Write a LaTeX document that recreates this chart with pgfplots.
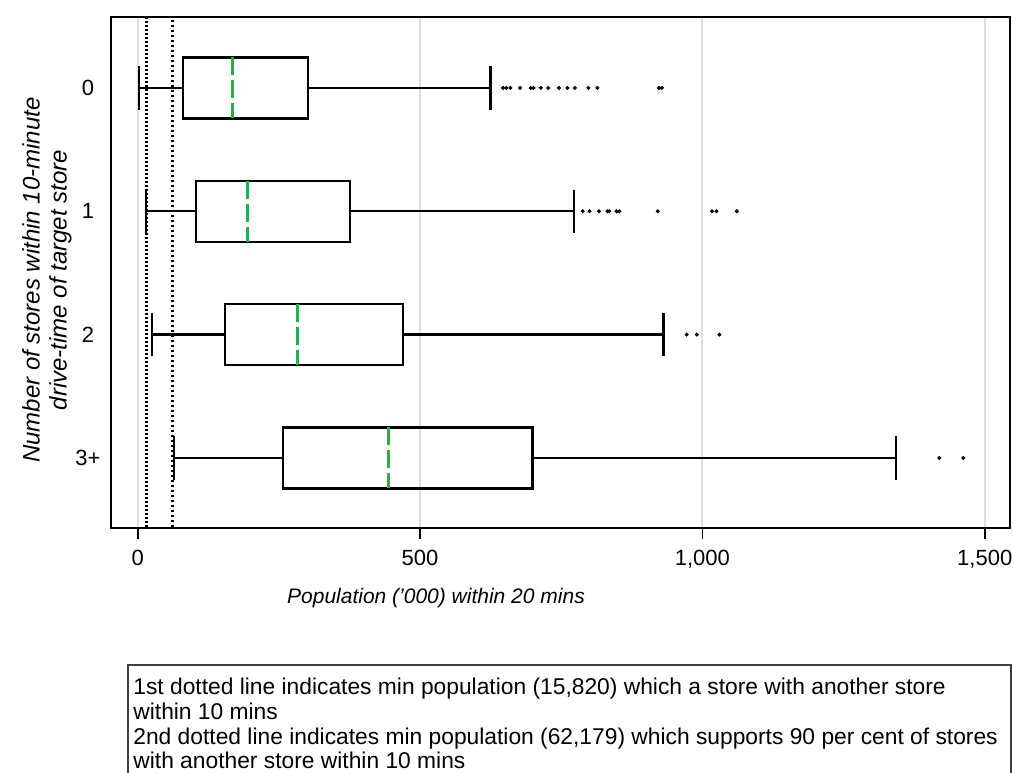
\documentclass[border=0pt]{standalone}
\usepackage{fontspec}
\setmainfont{Liberation Sans}
\usepackage{pgfplots}
\pgfplotsset{compat=1.18}
\usepgfplotslibrary{statistics}
\definecolor{medgreen}{RGB}{34,177,76}
\definecolor{gridgray}{RGB}{221,221,221}

\begin{document}
\begin{tikzpicture}
\useasboundingbox (0,0) rectangle (506.5bp,386.5bp);
\begin{axis}[
  at={(55.5bp,122.5bp)}, anchor=south west,
  scale only axis, width=449.5bp, height=255.5bp,
  xmin=-47.3, xmax=1544.7,
  ymin=-0.575, ymax=3.568, y dir=reverse,
  axis line style={black, line width=1.1bp},
  xtick={0,500,1000,1500},
  xticklabels={0,500,{1,000},{1,500}},
  ytick={0,1,2,3}, yticklabels={0,1,2,3+},
  xtick pos=bottom, ytick pos=left,
  tick align=outside,
  major tick length=5.5bp,
  ytick style={draw=none},
  xtick style={black, line width=0.9bp},
  xmajorgrids, grid style={gridgray, line width=1bp},
  ticklabel style={font=\fontsize{11bp}{12bp}\selectfont},
  yticklabel style={anchor=center, xshift=-6bp},
  xticklabel style={yshift=-2bp},
  /pgf/number format/assume math mode=true,
  boxplot/draw direction=x,
  boxplot/every box/.style={draw=black, line width=1.2bp},
  boxplot/every whisker/.style={black, line width=1.2bp},
  boxplot/every median/.style={medgreen, line width=1.5bp, dash pattern=on 9bp off 2.5bp},
  clip=true
]

% reference lines: min population thresholds
\addplot[black, line width=1.5bp, dash pattern=on 1bp off 1bp] coordinates {(15.82,-1) (15.82,4)};
\addplot[black, line width=1.4bp, dash pattern=on 1.3bp off 1.2bp] coordinates {(62.179,-1) (62.179,4)};

% 0 stores
\addplot[boxplot prepared={draw position=0, lower whisker=2.8, lower quartile=79.7,
    median=168, upper quartile=302, upper whisker=625, box extend=0.495, whisker extend=0.35},
  black, solid, mark=*, mark size=0.8bp, mark options={black, fill=black}]
  table[row sep=\\, y index=0] {v\\ 647\\ 653\\ 660\\ 677\\ 696\\ 701\\ 714\\ 727\\ 746\\ 761\\ 774\\ 798\\ 814\\ 923\\ 928\\};

% 1 store
\addplot[boxplot prepared={draw position=1, lower whisker=14.5, lower quartile=103,
    median=194, upper quartile=376, upper whisker=773, box extend=0.495, whisker extend=0.35},
  black, solid, mark=*, mark size=0.8bp, mark options={black, fill=black}]
  table[row sep=\\, y index=0] {v\\ 788\\ 800\\ 817\\ 832\\ 835\\ 848\\ 853\\ 921\\ 1017\\ 1025\\ 1061\\};

% 2 stores
\addplot[boxplot prepared={draw position=2, lower whisker=24.8, lower quartile=154.6,
    median=283, upper quartile=470, upper whisker=931, box extend=0.495, whisker extend=0.35},
  black, solid, mark=*, mark size=0.8bp, mark options={black, fill=black}]
  table[row sep=\\, y index=0] {v\\ 972\\ 990\\ 1030\\};

% 3+ stores
\addplot[boxplot prepared={draw position=3, lower whisker=64.3, lower quartile=256.8,
    median=443.8, upper quartile=698.8, upper whisker=1342.8, box extend=0.495, whisker extend=0.35},
  black, solid, mark=*, mark size=0.8bp, mark options={black, fill=black}]
  table[row sep=\\, y index=0] {v\\ 1419.5\\ 1462\\};

\end{axis}

% labels and note, placed in pixel units of the reference
\begin{scope}[x=0.5bp, y=-0.5bp, shift={(0,386.5bp)}]
  \node[font=\fontsize{12bp}{13.5bp}\selectfont\itshape, rotate=90, align=center]
    at (47,280) {Number of stores within 10-minute\\drive-time of target store};
  \node[font=\fontsize{10.5bp}{12bp}\selectfont\itshape] at (436,598)
    {Population ('000) within 20 mins};
  \draw[black!75, line width=0.7bp] (128,665) rectangle (1011,800);
  \begin{scope}[every node/.style={anchor=base west, inner sep=0pt,
      font=\fontsize{11.4bp}{12bp}\selectfont}]
    \node at (133,695) {1st dotted line indicates min population (15,820) which a store with another store};
    \node at (133,720) {within 10 mins};
    \node at (133,745) {2nd dotted line indicates min population (62,179) which supports 90 per cent of stores};
    \node at (133,768.5) {with another store within 10 mins};
  \end{scope}
\end{scope}
\end{tikzpicture}
\end{document}
